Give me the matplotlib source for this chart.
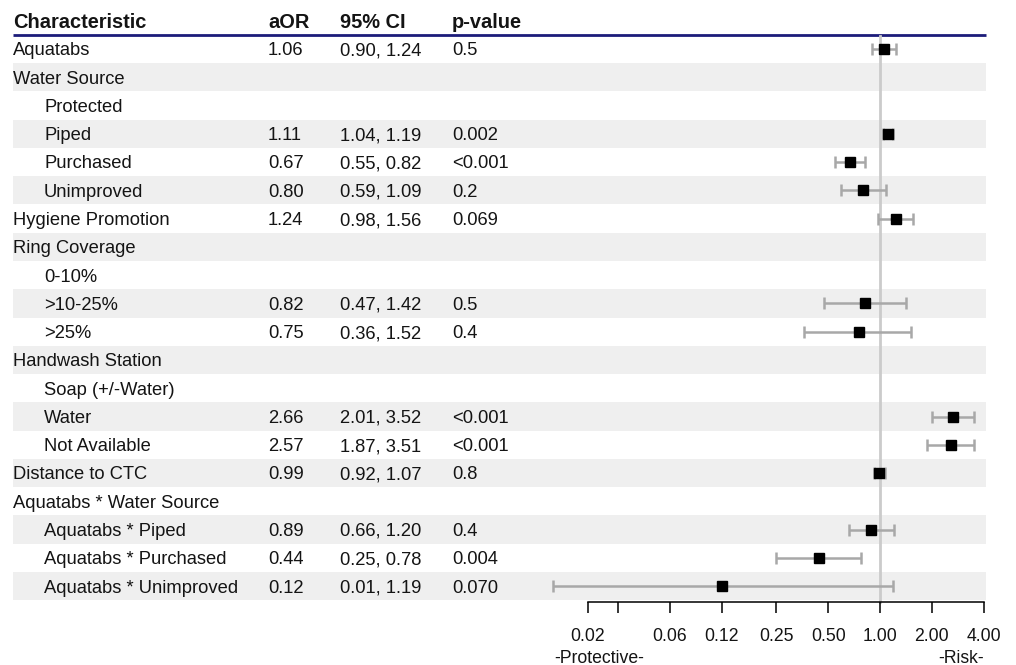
import matplotlib
matplotlib.use("Agg")
import matplotlib.pyplot as plt
from matplotlib.patches import Rectangle
from matplotlib.ticker import NullLocator
import numpy as np

nan = np.nan

labels = ["Aquatabs", "Water Source", "Protected", "Piped", "Purchased", "Unimproved",
          "Hygiene Promotion", "Ring Coverage", "0-10%", ">10-25%", ">25%",
          "Handwash Station", "Soap (+/-Water)", "Water", "Not Available",
          "Distance to CTC", "Aquatabs * Water Source", "Aquatabs * Piped",
          "Aquatabs * Purchased", "Aquatabs * Unimproved"]
indent = [0, 0, 1, 1, 1, 1, 0, 0, 1, 1, 1, 0, 1, 1, 1, 0, 0, 1, 1, 1]

aor = np.array([1.06, nan, nan, 1.11, 0.67, 0.80, 1.24, nan, nan, 0.82, 0.75,
                nan, nan, 2.66, 2.57, 0.99, nan, 0.89, 0.44, 0.12])
ci_lo = np.array([0.90, nan, nan, 1.04, 0.55, 0.59, 0.98, nan, nan, 0.47, 0.36,
                  nan, nan, 2.01, 1.87, 0.92, nan, 0.66, 0.25, 0.0126])
ci_hi = np.array([1.24, nan, nan, 1.19, 0.82, 1.09, 1.56, nan, nan, 1.42, 1.52,
                  nan, nan, 3.52, 3.51, 1.07, nan, 1.20, 0.78, 1.19])

aor_txt = ["1.06", "", "", "1.11", "0.67", "0.80", "1.24", "", "", "0.82", "0.75",
           "", "", "2.66", "2.57", "0.99", "", "0.89", "0.44", "0.12"]
ci_txt = ["0.90, 1.24", "", "", "1.04, 1.19", "0.55, 0.82", "0.59, 1.09", "0.98, 1.56",
          "", "", "0.47, 1.42", "0.36, 1.52", "", "", "2.01, 3.52", "1.87, 3.51",
          "0.92, 1.07", "", "0.66, 1.20", "0.25, 0.78", "0.01, 1.19"]
p_txt = ["0.5", "", "", "0.002", "<0.001", "0.2", "0.069", "", "", "0.5", "0.4",
         "", "", "<0.001", "<0.001", "0.8", "", "0.4", "0.004", "0.070"]

headers = ["Characteristic", "aOR", "95% CI", "p-value"]
tick_vals = [0.02, 0.03, 0.06, 0.12, 0.25, 0.50, 1.00, 2.00, 4.00]
tick_labels = ["0.02", "", "0.06", "0.12", "0.25", "0.50", "1.00", "2.00", "4.00"]

plt.rcParams['font.family'] = ['Liberation Sans', 'DejaVu Sans']
FS = 13.2
FS_H = 14.4
FS_T = 12.7
TXT = "#141414"

W, H = 1016, 665
fig = plt.figure(figsize=(W / 100, H / 100), dpi=100)

# table layer in pixel coordinates
ax = fig.add_axes([0, 0, 1, 1])
ax.set_xlim(0, W)
ax.set_ylim(H, 0)
ax.axis("off")

y0, dy = 49.0, 28.27
rows_y = y0 + dy * np.arange(len(labels))
band_l, band_r = 12.5, 986
base_off = 6.4  # half cap height -> baseline offset

for i, y in enumerate(rows_y):
    if i % 2 == 1:
        ax.add_patch(Rectangle((band_l, y - dy / 2), band_r - band_l, dy,
                               facecolor="#EFEFEF", edgecolor="none", zorder=0))

col_x = [13, 268, 340, 452]
for x, h in zip(col_x, headers):
    ax.text(x, 28, h, fontsize=FS_H, fontweight="bold", color=TXT, va="baseline", ha="left")
ax.plot([band_l, band_r], [35, 35], color="#1c1c7a", lw=2.0, solid_capstyle="butt", zorder=3)

for i, y in enumerate(rows_y):
    yb = y + base_off
    ax.text(col_x[0] + (31 if indent[i] else 0), yb, labels[i], fontsize=FS,
            color=TXT, va="baseline", ha="left")
    ax.text(col_x[1], yb, aor_txt[i], fontsize=FS, color=TXT, va="baseline", ha="left")
    ax.text(col_x[2], yb, ci_txt[i], fontsize=FS, color=TXT, va="baseline", ha="left")
    ax.text(col_x[3], yb, p_txt[i], fontsize=FS, color=TXT, va="baseline", ha="left")

ax.text(554, 663, "-Protective-", fontsize=FS_T, color=TXT, va="baseline", ha="left")
ax.text(984, 663, "-Risk-", fontsize=FS_T, color=TXT, va="baseline", ha="right")

# forest layer: log x axis, same pixel y coordinates
L, R = 540, 990
ppd = 51.8  # pixels per doubling
x_one = 880
fa = fig.add_axes([L / W, 0, (R - L) / W, 1])
fa.set_facecolor("none")
fa.set_xscale("log")
fa.set_xlim(2 ** ((L - x_one) / ppd), 2 ** ((R - x_one) / ppd))
fa.set_ylim(H, 0)

fa.plot([1, 1], [36, 602], color="#CBCBCB", lw=2, zorder=1)

m = ~np.isnan(aor)
fa.errorbar(aor[m], rows_y[m], xerr=[aor[m] - ci_lo[m], ci_hi[m] - aor[m]],
            fmt="none", ecolor="#A8A8A8", elinewidth=1.8, capsize=4.5, capthick=1.8, zorder=2)
fa.plot(aor[m], rows_y[m], "s", color="black", ms=7.6, zorder=3)

for s in ["top", "left", "right"]:
    fa.spines[s].set_visible(False)
fa.spines["bottom"].set_position(("data", 602))
fa.spines["bottom"].set_bounds(tick_vals[0], tick_vals[-1])
fa.spines["bottom"].set_linewidth(1.1)
fa.set_xticks(tick_vals)
fa.set_xticklabels(tick_labels)
fa.xaxis.set_minor_locator(NullLocator())
fa.tick_params(axis="x", direction="out", length=8, width=1.1, pad=11,
               labelsize=FS_T, labelcolor=TXT)
fa.set_yticks([])

fig.savefig("out.png", dpi=100)
